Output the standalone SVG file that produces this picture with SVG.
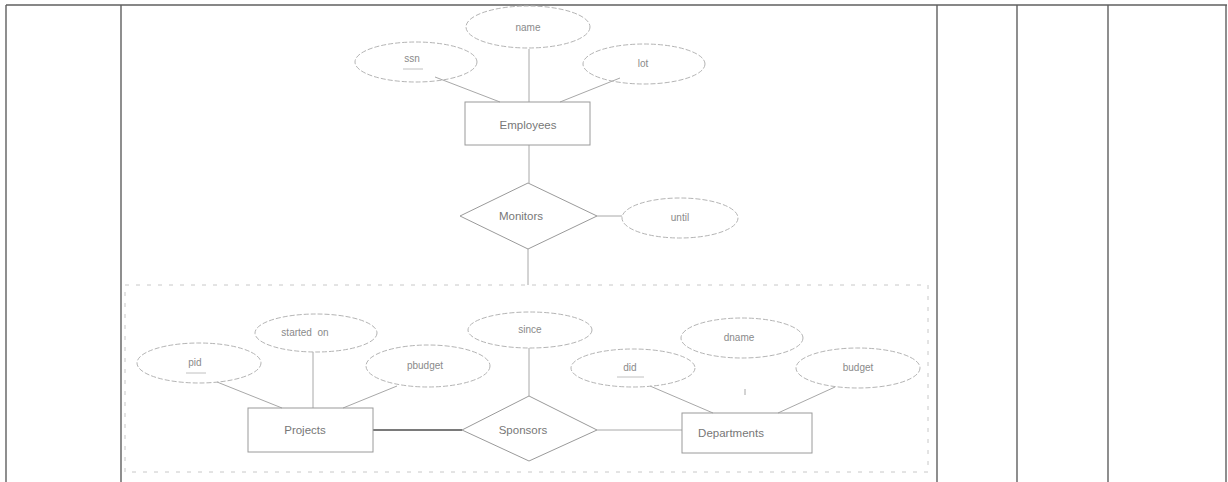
<svg xmlns="http://www.w3.org/2000/svg" width="1228" height="482" viewBox="0 0 1228 482">
<style>
.tbl{stroke:#5f5f5f;stroke-width:1.4;fill:none}
.attr{fill:none;stroke:#b4b4b4;stroke-width:1;stroke-dasharray:5 2}
.ent{fill:none;stroke:#9a9a9a;stroke-width:1}
.rel{fill:none;stroke:#9a9a9a;stroke-width:1}
.ln{stroke:#a8a8a8;stroke-width:1;fill:none}
.bold{stroke:#7a7a7a;stroke-width:2.2;fill:none}
.frame{fill:none;stroke:#c8c8c8;stroke-width:1;stroke-dasharray:4 7}
.t{font-family:"Liberation Sans",Arial,sans-serif;font-size:10px;fill:#8a8a8a;text-anchor:middle;white-space:pre}
.tn{font-family:"Liberation Sans",Arial,sans-serif;font-size:11.5px;fill:#777;text-anchor:middle}
.key{stroke:#b0b0b0;stroke-width:0.8}
</style>
<rect width="1228" height="482" fill="#ffffff"/>
<g id="table">
<line class="tbl" x1="6" y1="5" x2="1227" y2="5"/>
<line class="tbl" x1="6" y1="5" x2="6" y2="482"/>
<line class="tbl" x1="121" y1="5" x2="121" y2="482"/>
<line class="tbl" x1="937" y1="5" x2="937" y2="482"/>
<line class="tbl" x1="1017" y1="5" x2="1017" y2="482"/>
<line class="tbl" x1="1108" y1="5" x2="1108" y2="482"/>
<line class="tbl" x1="1226" y1="5" x2="1226" y2="482"/>
</g>
<rect id="aggregation" class="frame" x="125" y="285" width="803" height="187"/>
<g id="connectors">
<line class="ln" x1="435" y1="77" x2="500" y2="102"/>
<line class="ln" x1="529" y1="49" x2="529" y2="102"/>
<line class="ln" x1="620" y1="78" x2="560" y2="102"/>
<line class="ln" x1="529" y1="145" x2="529" y2="183"/>
<line class="ln" x1="597" y1="216" x2="622" y2="216"/>
<line class="ln" x1="528" y1="249" x2="528" y2="285"/>
<line class="ln" x1="217" y1="382" x2="282" y2="408"/>
<line class="ln" x1="313" y1="352" x2="313" y2="408"/>
<line class="ln" x1="397" y1="386" x2="343" y2="408"/>
<line class="bold" x1="373" y1="430" x2="462" y2="430"/>
<line class="ln" x1="529" y1="348" x2="529" y2="396"/>
<line class="ln" x1="597" y1="430" x2="682" y2="430"/>
<line class="ln" x1="650" y1="386" x2="713" y2="413"/>
<line class="ln" x1="745" y1="389" x2="745" y2="395"/>
<line class="ln" x1="835" y1="387" x2="778" y2="413"/>
</g>
<g id="name"><ellipse class="attr" cx="528" cy="27" rx="62" ry="21"/><text class="t" x="528" y="31">name</text></g>
<g id="ssn"><ellipse class="attr" cx="416" cy="62" rx="61" ry="20"/><text class="t" x="412" y="62">ssn</text><line class="key" x1="403" y1="69" x2="423" y2="69"/></g>
<g id="lot"><ellipse class="attr" cx="644" cy="64" rx="61" ry="20"/><text class="t" x="643" y="67">lot</text></g>
<g id="Employees"><rect class="ent" x="465" y="102" width="125" height="43"/><text class="tn" x="528" y="129">Employees</text></g>
<g id="Monitors"><polygon class="rel" points="460,216 528,183 597,216 528,249"/><text class="tn" x="521" y="220">Monitors</text></g>
<g id="until"><ellipse class="attr" cx="680" cy="218" rx="58" ry="20"/><text class="t" x="680" y="221">until</text></g>
<g id="started_on"><ellipse class="attr" cx="316" cy="333" rx="61" ry="19"/><text class="t" x="305" y="336" xml:space="preserve">started  on</text></g>
<g id="pid"><ellipse class="attr" cx="199" cy="363" rx="62" ry="20"/><text class="t" x="195" y="366">pid</text><line class="key" x1="186" y1="373" x2="206" y2="373"/></g>
<g id="pbudget"><ellipse class="attr" cx="428" cy="366" rx="62" ry="21"/><text class="t" x="425" y="369">pbudget</text></g>
<g id="Projects"><rect class="ent" x="248" y="408" width="125" height="44"/><text class="tn" x="305" y="434">Projects</text></g>
<g id="since"><ellipse class="attr" cx="530" cy="330" rx="62" ry="18"/><text class="t" x="530" y="333">since</text></g>
<g id="Sponsors"><polygon class="rel" points="462,430 529,396 597,430 529,461"/><text class="tn" x="523" y="434">Sponsors</text></g>
<g id="did"><ellipse class="attr" cx="633" cy="368" rx="62" ry="19"/><text class="t" x="630" y="371">did</text><line class="key" x1="617" y1="377" x2="644" y2="377"/></g>
<g id="dname"><ellipse class="attr" cx="742" cy="338" rx="61" ry="20"/><text class="t" x="739" y="341">dname</text></g>
<g id="budget"><ellipse class="attr" cx="858" cy="368" rx="62" ry="20"/><text class="t" x="858" y="371">budget</text></g>
<g id="Departments"><rect class="ent" x="682" y="413" width="130" height="40"/><text class="tn" x="731" y="437">Departments</text></g>
</svg>
